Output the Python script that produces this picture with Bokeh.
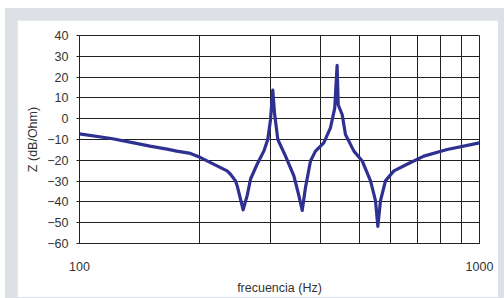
from bokeh.plotting import figure
from bokeh.layouts import column
from bokeh.models import FixedTicker, Range1d
from bokeh.embed import file_html
from bokeh.resources import INLINE

freq = [100, 120, 136.7, 150, 165.6, 175, 189.5, 200.7, 220.7, 233.9, 238.5, 245.5, 247.8,
        252.6, 256.5, 262.5, 267.7, 278, 288.9, 295.6, 300.3, 304.2, 307.3, 313.2, 327.4,
        343.5, 353.5, 360.4, 367.3, 378, 389, 408, 424, 434.6, 440.6, 443.4, 453.7, 462.3,
        485.3, 509, 534, 549.5, 557, 565.6, 582, 599, 611, 659, 726, 830, 1000]
z = [-7.3, -9.5, -11.6, -13.2, -14.6, -15.6, -16.7, -18.7, -22.7, -25.1, -26.7, -29.9, -32.2,
     -38.6, -43.8, -37, -29, -21.9, -15.6, -10, -0.5, 13.8, 2.7, -10, -18,
     -27.5, -37, -44.1, -33, -20.3, -15.6, -11.6, -4.4, 5.1, 25.7, 6.7, 1.9, -7.6,
     -15.6, -20.3, -29.9, -39.4, -51.8, -39.4, -29.9, -27, -25.1, -21.9, -18, -14.8, -11.6]

y_ticks = [-60, -50, -40, -30, -20, -10, 0, 10, 20, 30, 40]
x_ticks = [100, 1000]
x_grid = [100, 200, 300, 400, 500, 600, 700, 800, 900, 1000]

FONT = "Liberation Sans"
TXT = "#333333"
GRID = "#222222"

p = figure(width=481, height=277, x_axis_type="log", output_backend="svg",
           toolbar_location=None, x_range=Range1d(100, 1000), y_range=Range1d(-60, 40),
           min_border_left=62, min_border_right=19, min_border_top=15, min_border_bottom=52)

p.background_fill_color = "white"
p.border_fill_color = "white"
p.outline_line_color = GRID
p.outline_line_width = 1

p.line(freq, z, line_color="#2e3192", line_width=3.2, line_join="round")

p.xaxis.ticker = FixedTicker(ticks=x_ticks)
p.yaxis.ticker = FixedTicker(ticks=y_ticks)
p.xgrid.ticker = FixedTicker(ticks=x_grid)
p.ygrid.ticker = FixedTicker(ticks=y_ticks)
p.xgrid.grid_line_color = GRID
p.ygrid.grid_line_color = GRID
p.xgrid.grid_line_width = 1
p.ygrid.grid_line_width = 1

p.xaxis.major_label_overrides = {100: "100", 1000: "1000"}

for ax in (p.xaxis, p.yaxis):
    ax.axis_line_color = GRID
    ax.major_label_text_font = FONT
    ax.major_label_text_font_size = "12.5px"
    ax.major_label_text_color = TXT
    ax.axis_label_text_font = FONT
    ax.axis_label_text_font_size = "12.5px"
    ax.axis_label_text_color = TXT
    ax.axis_label_text_font_style = "normal"
    ax.minor_tick_line_color = None

p.xaxis.major_tick_line_color = None
p.xaxis.major_label_standoff = 12
p.xaxis.axis_label = "frecuencia (Hz)"
p.xaxis.axis_label_standoff = 7

p.yaxis.major_tick_line_color = GRID
p.yaxis.major_tick_in = 0
p.yaxis.major_tick_out = 3
p.yaxis.major_label_standoff = 8
p.yaxis.axis_label = "Z (dB/Ohm)"
p.yaxis.axis_label_standoff = 4

layout = column(p, styles={"background-color": "#dde1e6",
                           "padding": "12px 6px 1px 12px",
                           "margin": "8px 0px 0px 5px"})

open("out.html", "w").write(file_html(layout, INLINE))
